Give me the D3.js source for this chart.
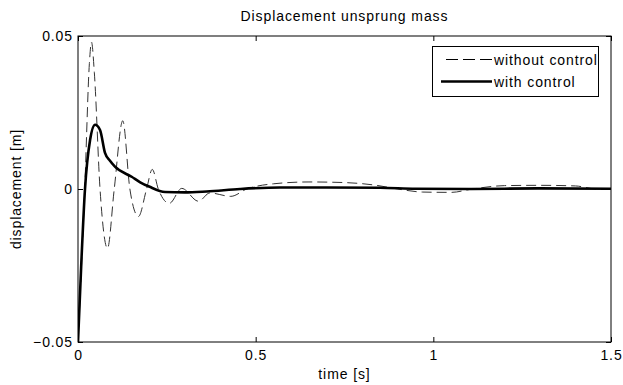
<!DOCTYPE html>
<meta charset="utf-8">
<script src="https://d3js.org/d3.v7.min.js"></script>
<style>
  body { margin: 0; background: #fff; }
  text { font-family: "Liberation Sans", Arial, sans-serif; font-size: 14px; letter-spacing: 0.9px; fill: #000; }
</style>
<div id="chart"></div>
<script>
// data
var timeNoCtrl = [0, 0.019, 0.032, 0.038, 0.046, 0.062, 0.083, 0.102, 0.126, 0.146, 0.17, 0.193, 0.209, 0.226, 0.257, 0.292, 0.339, 0.371, 0.43, 0.475, 0.55, 0.65, 0.75, 0.84, 0.9, 0.97, 1.05, 1.11, 1.2, 1.3, 1.4, 1.46, 1.5];
var dispNoCtrl = [-0.05, 0, 0.041, 0.048, 0.038, 0, -0.0194, 0, 0.0223, 0, -0.009, 0, 0.0064, 0, -0.0047, 0.0002, -0.004, -0.0013, -0.0024, 0, 0.0017, 0.0023, 0.0021, 0.0012, 0, -0.001, -0.0011, 0, 0.0011, 0.0012, 0.001, 0, 0];

var timeCtrl = [0, 0.0094, 0.0197, 0.034, 0.048, 0.062, 0.076, 0.09, 0.104, 0.151, 0.175, 0.2, 0.245, 0.3, 0.362, 0.456, 0.568, 0.7, 0.85, 0.95, 1.1, 1.3, 1.5];
var dispCtrl = [-0.05, -0.024, 0, 0.016, 0.021, 0.0193, 0.0118, 0.0092, 0.0073, 0.004, 0.0022, 0.0008, -0.001, -0.0011, -0.0008, 0, 0.0005, 0.0005, 0.0004, 0.0001, 0, 0.0002, 0.0001];

var xTicks = [0, 0.5, 1, 1.5];
var yTicks = [-0.05, 0, 0.05];
var seriesNames = ["without control", "with control"];

var margin = {top: 36, right: 12, bottom: 43, left: 78},
    width = 623 - margin.left - margin.right,
    height = 385 - margin.top - margin.bottom;

var svg = d3.select("#chart").append("svg")
    .attr("width", 623)
    .attr("height", 385);

var g = svg.append("g")
    .attr("transform", "translate(" + margin.left + "," + margin.top + ")");

var x = d3.scaleLinear().domain([0, 1.5]).range([0, width]);
var y = d3.scaleLinear().domain([-0.05, 0.05]).range([height, 0]);

svg.append("defs").append("clipPath").attr("id", "clip")
  .append("rect").attr("width", width).attr("height", height);

// axes, MATLAB style ticks pointing inward
function styleAxis(sel) {
  sel.select(".domain").remove();
  sel.attr("font-family", null).attr("font-size", null);
  sel.selectAll("line").attr("stroke", "#000");
}

g.append("g")
  .attr("transform", "translate(0," + height + ")")
  .call(d3.axisBottom(x).tickValues(xTicks).tickSizeInner(-5).tickSizeOuter(0).tickPadding(8)
    .tickFormat(function(d) { return d3.format("")(d); }))
  .call(styleAxis);

g.append("g")
  .call(d3.axisLeft(y).tickValues(yTicks).tickSizeInner(-5).tickSizeOuter(0).tickPadding(5)
    .tickFormat(function(d) { return d === 0 ? "0" : d3.format(".2f")(d); }))
  .call(styleAxis);

g.append("g")
  .call(d3.axisTop(x).tickValues(xTicks).tickSizeInner(-5).tickSizeOuter(0).tickFormat(""))
  .call(styleAxis);

g.append("g")
  .attr("transform", "translate(" + width + ",0)")
  .call(d3.axisRight(y).tickValues(yTicks).tickSizeInner(-5).tickSizeOuter(0).tickFormat(""))
  .call(styleAxis);

g.append("rect")
  .attr("width", width).attr("height", height)
  .attr("fill", "none").attr("stroke", "#000").attr("stroke-width", 1);

// lines
var line = d3.line()
  .x(function(d) { return x(d[0]); })
  .y(function(d) { return y(d[1]); })
  .curve(d3.curveMonotoneX);

var plot = g.append("g").attr("clip-path", "url(#clip)");

plot.append("path")
  .datum(d3.zip(timeNoCtrl, dispNoCtrl))
  .attr("d", line)
  .attr("fill", "none")
  .attr("stroke", "#333")
  .attr("stroke-width", 1)
  .attr("stroke-dasharray", "10,5");

plot.append("path")
  .datum(d3.zip(timeCtrl, dispCtrl))
  .attr("d", line)
  .attr("fill", "none")
  .attr("stroke", "#000")
  .attr("stroke-width", 2.6)
  .attr("stroke-linejoin", "round");

// title and labels
svg.append("text")
  .attr("x", margin.left + width / 2)
  .attr("y", 21)
  .attr("text-anchor", "middle")
  .text("Displacement unsprung mass");

svg.append("text")
  .attr("x", margin.left + width / 2)
  .attr("y", 379)
  .attr("text-anchor", "middle")
  .text("time [s]");

svg.append("text")
  .attr("transform", "translate(21," + (margin.top + height / 2) + ") rotate(-90)")
  .attr("text-anchor", "middle")
  .text("displacement [m]");

// legend
var legend = svg.append("g");
legend.append("rect")
  .attr("x", 432.5).attr("y", 46.5)
  .attr("width", 166).attr("height", 50)
  .attr("fill", "#fff").attr("stroke", "#000").attr("stroke-width", 1);

legend.append("line")
  .attr("x1", 446).attr("x2", 492).attr("y1", 59.5).attr("y2", 59.5)
  .attr("stroke", "#000").attr("stroke-width", 1).attr("stroke-dasharray", "12,5");
legend.append("line")
  .attr("x1", 441).attr("x2", 492).attr("y1", 81.5).attr("y2", 81.5)
  .attr("stroke", "#000").attr("stroke-width", 2.6);

legend.selectAll("text.lbl")
  .data(seriesNames)
  .enter().append("text")
  .attr("class", "lbl")
  .attr("x", 494)
  .attr("y", function(d, i) { return 65 + i * 22; })
  .text(function(d) { return d; });
</script>
